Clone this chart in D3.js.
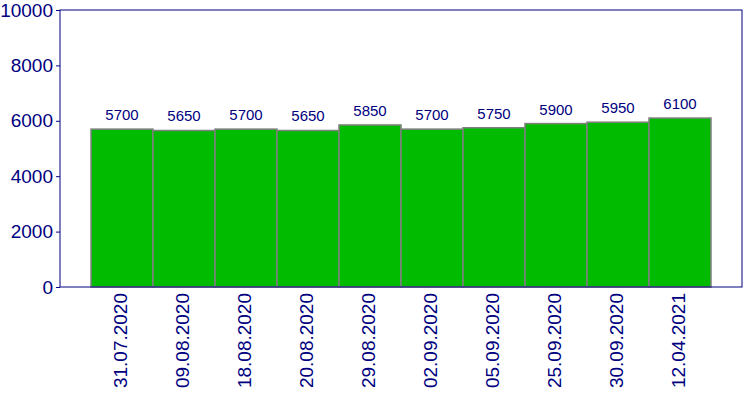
<!DOCTYPE html>
<html>
<head>
<meta charset="utf-8">
<script src="https://cdn.jsdelivr.net/npm/d3@7"></script>
<style>
  body { margin: 0; background: #fff; }
  text { font-family: "Liberation Sans", Arial, sans-serif; fill: #000080; }
</style>
</head>
<body>
<svg id="chart" width="750" height="400"></svg>
<script>
const dates = ["31.07.2020", "09.08.2020", "18.08.2020", "20.08.2020", "29.08.2020",
    "02.09.2020", "05.09.2020", "25.09.2020", "30.09.2020", "12.04.2021"];
const values = [5700, 5650, 5700, 5650, 5850, 5700, 5750, 5900, 5950, 6100];
const yTicks = [0, 2000, 4000, 6000, 8000, 10000];

const margin = { top: 10, right: 8, bottom: 113, left: 60 };
const width = 750, height = 400;
const navy = "#000080";

const svg = d3.select("#chart");

const x = d3.scaleBand()
    .domain(dates)
    .range([margin.left, width - margin.right])
    .paddingInner(0)
    .paddingOuter(0.5);

const y = d3.scaleLinear()
    .domain([0, 10000])
    .range([height - margin.bottom, margin.top]);

// bars
svg.append("g")
    .selectAll("rect")
    .data(values)
    .enter()
    .append("rect")
    .attr("x", (d, i) => x(dates[i]))
    .attr("y", d => y(d))
    .attr("width", x.bandwidth())
    .attr("height", d => y(0) - y(d))
    .attr("fill", "#00bb00")
    .attr("stroke", "#808080")
    .attr("stroke-width", 1.5);

// value labels
svg.append("g")
    .selectAll("text")
    .data(values)
    .enter()
    .append("text")
    .attr("x", (d, i) => x(dates[i]) + x.bandwidth() / 2)
    .attr("y", d => y(d) - 9)
    .attr("text-anchor", "middle")
    .style("font-size", "15px")
    .text(d => d);

// plot frame
svg.append("rect")
    .attr("x", margin.left)
    .attr("y", margin.top)
    .attr("width", width - margin.right - margin.left)
    .attr("height", y(0) - margin.top)
    .attr("fill", "none")
    .attr("stroke", navy)
    .attr("stroke-width", 1);

// y axis
const yAxis = svg.append("g")
    .attr("transform", `translate(${margin.left},0)`)
    .call(d3.axisLeft(y).tickValues(yTicks).tickSize(4).tickPadding(3).tickFormat(d3.format("d")));
yAxis.select(".domain").remove();
yAxis.selectAll("line").attr("stroke", navy);
yAxis.selectAll("text")
    .style("font-size", "19px")
    .style("font-family", "'Liberation Sans', Arial, sans-serif")
    .attr("fill", navy);

// x axis labels
const xAxis = svg.append("g")
    .attr("transform", `translate(0,${y(0)})`)
    .call(d3.axisBottom(x).tickSize(0).tickPadding(0));
xAxis.select(".domain").remove();
xAxis.selectAll("text")
    .style("font-size", "19px")
    .style("font-family", "'Liberation Sans', Arial, sans-serif")
    .attr("fill", navy)
    .attr("text-anchor", "end")
    .attr("transform", "rotate(-90)")
    .attr("x", -6)
    .attr("y", 0)
    .attr("dy", "0.25em");
</script>
</body>
</html>
